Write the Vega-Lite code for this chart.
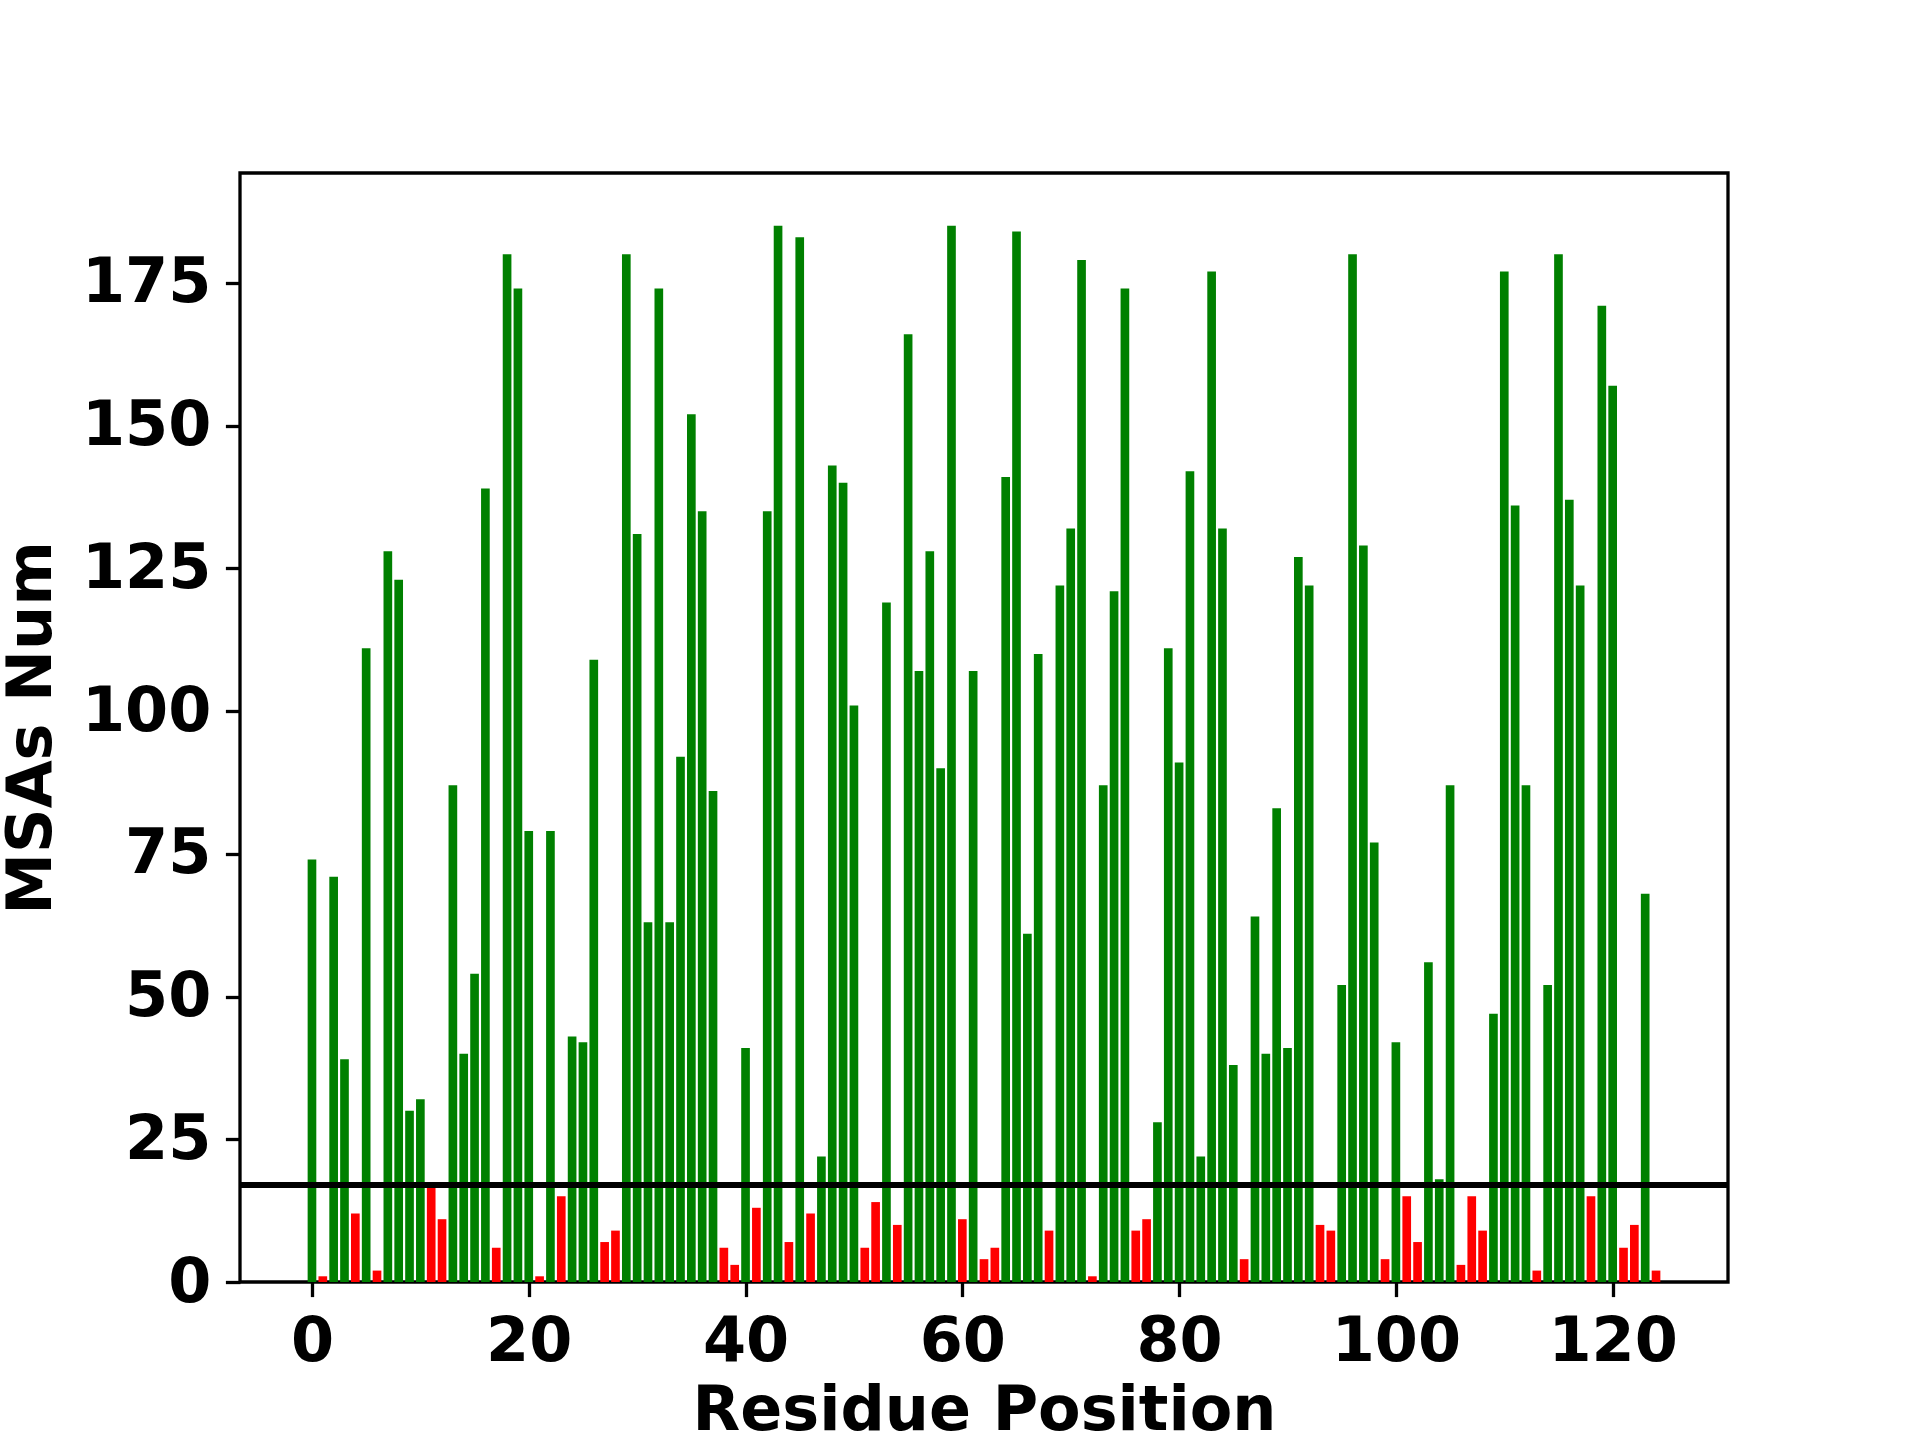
{
  "$schema": "https://vega.github.io/schema/vega-lite/v6.json",
  "width": 1488,
  "height": 1109,
  "autosize": {"type": "none"},
  "padding": {"left": 240, "top": 173, "right": 192, "bottom": 158},
  "background": "white",
  "config": {
    "view": {"stroke": "black", "strokeWidth": 3.3},
    "font": "DejaVu Sans",
    "axis": {
      "domain": false,
      "grid": false,
      "labelFont": "DejaVu Sans",
      "labelFontWeight": "bold",
      "labelFontSize": 62,
      "labelColor": "black",
      "tickColor": "black",
      "tickWidth": 3.3,
      "tickSize": 14.6,
      "labelPadding": 14.6,
      "titleFont": "DejaVu Sans",
      "titleFontWeight": "bold",
      "titleFontSize": 62,
      "titleColor": "black"
    }
  },
  "data": {
    "values": [
      {"pos":0,"num":74,"group":"pass"},{"pos":1,"num":1,"group":"fail"},{"pos":2,"num":71,"group":"pass"},{"pos":3,"num":39,"group":"pass"},{"pos":4,"num":12,"group":"fail"},
      {"pos":5,"num":111,"group":"pass"},{"pos":6,"num":2,"group":"fail"},{"pos":7,"num":128,"group":"pass"},{"pos":8,"num":123,"group":"pass"},{"pos":9,"num":30,"group":"pass"},
      {"pos":10,"num":32,"group":"pass"},{"pos":11,"num":17,"group":"fail"},{"pos":12,"num":11,"group":"fail"},{"pos":13,"num":87,"group":"pass"},{"pos":14,"num":40,"group":"pass"},
      {"pos":15,"num":54,"group":"pass"},{"pos":16,"num":139,"group":"pass"},{"pos":17,"num":6,"group":"fail"},{"pos":18,"num":180,"group":"pass"},{"pos":19,"num":174,"group":"pass"},
      {"pos":20,"num":79,"group":"pass"},{"pos":21,"num":1,"group":"fail"},{"pos":22,"num":79,"group":"pass"},{"pos":23,"num":15,"group":"fail"},{"pos":24,"num":43,"group":"pass"},
      {"pos":25,"num":42,"group":"pass"},{"pos":26,"num":109,"group":"pass"},{"pos":27,"num":7,"group":"fail"},{"pos":28,"num":9,"group":"fail"},{"pos":29,"num":180,"group":"pass"},
      {"pos":30,"num":131,"group":"pass"},{"pos":31,"num":63,"group":"pass"},{"pos":32,"num":174,"group":"pass"},{"pos":33,"num":63,"group":"pass"},{"pos":34,"num":92,"group":"pass"},
      {"pos":35,"num":152,"group":"pass"},{"pos":36,"num":135,"group":"pass"},{"pos":37,"num":86,"group":"pass"},{"pos":38,"num":6,"group":"fail"},{"pos":39,"num":3,"group":"fail"},
      {"pos":40,"num":41,"group":"pass"},{"pos":41,"num":13,"group":"fail"},{"pos":42,"num":135,"group":"pass"},{"pos":43,"num":185,"group":"pass"},{"pos":44,"num":7,"group":"fail"},
      {"pos":45,"num":183,"group":"pass"},{"pos":46,"num":12,"group":"fail"},{"pos":47,"num":22,"group":"pass"},{"pos":48,"num":143,"group":"pass"},{"pos":49,"num":140,"group":"pass"},
      {"pos":50,"num":101,"group":"pass"},{"pos":51,"num":6,"group":"fail"},{"pos":52,"num":14,"group":"fail"},{"pos":53,"num":119,"group":"pass"},{"pos":54,"num":10,"group":"fail"},
      {"pos":55,"num":166,"group":"pass"},{"pos":56,"num":107,"group":"pass"},{"pos":57,"num":128,"group":"pass"},{"pos":58,"num":90,"group":"pass"},{"pos":59,"num":185,"group":"pass"},
      {"pos":60,"num":11,"group":"fail"},{"pos":61,"num":107,"group":"pass"},{"pos":62,"num":4,"group":"fail"},{"pos":63,"num":6,"group":"fail"},{"pos":64,"num":141,"group":"pass"},
      {"pos":65,"num":184,"group":"pass"},{"pos":66,"num":61,"group":"pass"},{"pos":67,"num":110,"group":"pass"},{"pos":68,"num":9,"group":"fail"},{"pos":69,"num":122,"group":"pass"},
      {"pos":70,"num":132,"group":"pass"},{"pos":71,"num":179,"group":"pass"},{"pos":72,"num":1,"group":"fail"},{"pos":73,"num":87,"group":"pass"},{"pos":74,"num":121,"group":"pass"},
      {"pos":75,"num":174,"group":"pass"},{"pos":76,"num":9,"group":"fail"},{"pos":77,"num":11,"group":"fail"},{"pos":78,"num":28,"group":"pass"},{"pos":79,"num":111,"group":"pass"},
      {"pos":80,"num":91,"group":"pass"},{"pos":81,"num":142,"group":"pass"},{"pos":82,"num":22,"group":"pass"},{"pos":83,"num":177,"group":"pass"},{"pos":84,"num":132,"group":"pass"},
      {"pos":85,"num":38,"group":"pass"},{"pos":86,"num":4,"group":"fail"},{"pos":87,"num":64,"group":"pass"},{"pos":88,"num":40,"group":"pass"},{"pos":89,"num":83,"group":"pass"},
      {"pos":90,"num":41,"group":"pass"},{"pos":91,"num":127,"group":"pass"},{"pos":92,"num":122,"group":"pass"},{"pos":93,"num":10,"group":"fail"},{"pos":94,"num":9,"group":"fail"},
      {"pos":95,"num":52,"group":"pass"},{"pos":96,"num":180,"group":"pass"},{"pos":97,"num":129,"group":"pass"},{"pos":98,"num":77,"group":"pass"},{"pos":99,"num":4,"group":"fail"},
      {"pos":100,"num":42,"group":"pass"},{"pos":101,"num":15,"group":"fail"},{"pos":102,"num":7,"group":"fail"},{"pos":103,"num":56,"group":"pass"},{"pos":104,"num":18,"group":"pass"},
      {"pos":105,"num":87,"group":"pass"},{"pos":106,"num":3,"group":"fail"},{"pos":107,"num":15,"group":"fail"},{"pos":108,"num":9,"group":"fail"},{"pos":109,"num":47,"group":"pass"},
      {"pos":110,"num":177,"group":"pass"},{"pos":111,"num":136,"group":"pass"},{"pos":112,"num":87,"group":"pass"},{"pos":113,"num":2,"group":"fail"},{"pos":114,"num":52,"group":"pass"},
      {"pos":115,"num":180,"group":"pass"},{"pos":116,"num":137,"group":"pass"},{"pos":117,"num":122,"group":"pass"},{"pos":118,"num":15,"group":"fail"},{"pos":119,"num":171,"group":"pass"},
      {"pos":120,"num":157,"group":"pass"},{"pos":121,"num":6,"group":"fail"},{"pos":122,"num":10,"group":"fail"},{"pos":123,"num":68,"group":"pass"},{"pos":124,"num":2,"group":"fail"}
    ]
  },
  "layer": [
    {
      "mark": {"type": "bar", "width": 8.67, "opacity": 1},
      "encoding": {
        "x": {
          "field": "pos",
          "type": "quantitative",
          "scale": {"domain": [-6.64, 130.64], "nice": false, "zero": false, "padding": 0},
          "axis": {"values": [0, 20, 40, 60, 80, 100, 120], "title": "Residue Position", "titlePadding": 8}
        },
        "y": {
          "field": "num",
          "type": "quantitative",
          "scale": {"domain": [0, 194.25], "nice": false, "padding": 0},
          "axis": {"values": [0, 25, 50, 75, 100, 125, 150, 175], "title": "MSAs Num", "titlePadding": 18}
        },
        "color": {
          "field": "group",
          "type": "nominal",
          "scale": {"domain": ["pass", "fail"], "range": ["#008000", "#ff0000"]},
          "legend": null
        }
      }
    },
    {
      "mark": {"type": "rule", "color": "black", "strokeWidth": 6},
      "encoding": {"y": {"datum": 17}}
    }
  ]
}
